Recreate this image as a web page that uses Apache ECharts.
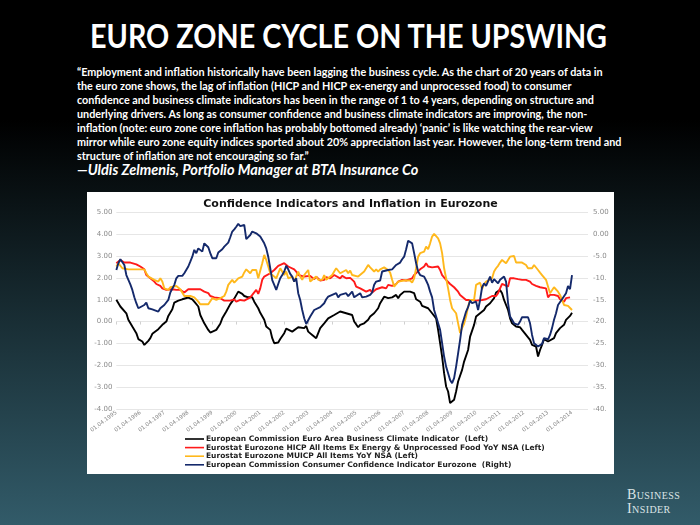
<!DOCTYPE html>
<html>
<head>
<meta charset="utf-8">
<script src="https://cdn.jsdelivr.net/npm/echarts@6/dist/echarts.min.js"></script>
<style>
  html, body { margin:0; padding:0; }
  body { width:700px; height:525px; overflow:hidden; position:relative;
         background: linear-gradient(to bottom, #000 0px, #000 120px, #16292f 300px, #325b69 525px); }
  #title { position:absolute; left:90px; top:15px; color:#fff; white-space:nowrap;
           font-family:Lato, sans-serif; font-size:33px; font-weight:700; transform-origin:0 0; }
  #quote { position:absolute; left:77px; top:65px; color:#fff; font-family:Lato, sans-serif;
           font-weight:700; font-size:10.8px; line-height:14px; white-space:nowrap; }
  #author { position:absolute; left:77px; top:161px; color:#fff; font-family:Lato, sans-serif;
           font-weight:700; font-style:italic; font-size:14.5px; white-space:nowrap; }
  #panel { position:absolute; left:87px; top:192px; width:527px; height:282px; background:#fff; }
  #chart { width:527px; height:282px; }
  #logo { position:absolute; left:627px; top:488px; color:#dde4e6; font-family:'Liberation Serif', serif;
          font-variant:small-caps; font-size:14px; line-height:14px; letter-spacing:0.4px; }
</style>
</head>
<body>
<div id="title">EURO ZONE CYCLE ON THE UPSWING</div>
<div id="quote">“Employment and inflation historically have been lagging the business cycle. As the chart of 20 years of data in<br>the euro zone shows, the lag of inflation (HICP and HICP ex-energy and unprocessed food) to consumer<br>confidence and business climate indicators has been in the range of 1 to 4 years, depending on structure and<br>underlying drivers. As long as consumer confidence and business climate indicators are improving, the non-<br>inflation (note: euro zone core inflation has probably bottomed already) ‘panic’ is like watching the rear-view<br>mirror while euro zone equity indices sported about 20% appreciation last year. However, the long-term trend and<br>structure of inflation are not encouraging so far.”</div>
<div id="author">—Uldis Zelmenis, Portfolio Manager at BTA Insurance Co</div>
<div id="panel"><div id="chart"></div></div>
<div id="logo">Business<br>Insider</div>
<script>
// fit the headline to the width it has in the reference
(function(){ const t = document.getElementById('title'); const w = t.getBoundingClientRect().width;
  t.style.transform = 'scaleX(' + (517 / w) + ')'; })();

// x values = months since 01.04.1995
const xTickLabels = ['01.04.1995','01.04.1996','01.04.1997','01.04.1998','01.04.1999','01.04.2000','01.04.2001',
  '01.04.2002','01.04.2003','01.04.2004','01.04.2005','01.04.2006','01.04.2007','01.04.2008','01.04.2009',
  '01.04.2010','01.04.2011','01.04.2012','01.04.2013','01.04.2014'];

const seriesNames = [
  'European Commission Euro Area Business Climate Indicator  (Left)',
  'Eurostat Eurozone HICP All Items Ex Energy & Unprocessed Food YoY NSA (Left)',
  'Eurostat Eurozone MUICP All Items YoY NSA (Left)',
  'European Commission Consumer Confidence Indicator Eurozone  (Right)'
];

const businessClimate = [[0,1.0],[1,1.0],[2,0.69],[3,0.65],[5,0.38],[6,0.08],[8,-0.23],[10,-0.53],[11,-0.8],[12,-0.87],[13,-0.91],[14,-1.07],[16,-0.88],[17,-0.76],[18,-0.56],[19,-0.53],[21,-0.35],[22,-0.38],[23,-0.15],[25,0.0],[26,0.26],[28,0.56],[29,0.87],[31,0.96],[33,1.02],[36,1.1],[38,1.02],[39,0.91],[41,0.69],[42,0.3],[44,-0.08],[46,-0.38],[47,-0.5],[48,-0.56],[50,-0.38],[52,-0.1],[53,0.15],[55,0.46],[57,0.8],[59,1.05],[60,0.96],[61,1.37],[63,1.27],[64,1.17],[66,1.11],[68,1.11],[69,0.91],[71,0.61],[72,0.4],[74,0.08],[75,-0.23],[77,-0.38],[78,-0.76],[79,-0.99],[80,-1.07],[81,-0.96],[82,-0.8],[84,-0.53],[85,-0.32],[86,-0.38],[88,-0.46],[89,-0.38],[91,-0.26],[92,-0.23],[94,-0.3],[95,-0.2],[96,-0.46],[98,-0.61],[100,-0.76],[101,-0.53],[102,-0.3],[104,-0.08],[106,0.15],[107,0.08],[109,0.3],[110,0.38],[112,0.46],[113,0.46],[115,0.38],[116,0.42],[118,0.3],[119,0.0],[121,-0.26],[122,-0.15],[124,-0.08],[126,0.08],[127,0.23],[129,0.38],[131,0.61],[132,0.84],[134,1.14],[135,1.07],[136,1.07],[138,1.11],[140,1.22],[141,1.07],[142,1.22],[144,1.37],[145,1.33],[147,1.37],[149,1.3],[150,1.02],[152,0.91],[153,0.72],[154,0.69],[156,0.61],[157,0.69],[158,0.38],[160,0.15],[161,-0.38],[162,-0.99],[163,-1.6],[164,-2.36],[165,-2.97],[166,-3.2],[167,-3.73],[169,-3.58],[170,-3.2],[171,-2.74],[173,-2.21],[174,-1.83],[176,-1.3],[177,-0.69],[179,-0.15],[180,0.23],[182,0.38],[184,0.53],[185,0.69],[187,0.84],[189,1.07],[190,1.33],[192,1.45],[193,1.3],[194,0.99],[196,0.53],[197,0.15],[198,-0.08],[200,-0.23],[202,-0.26],[203,-0.38],[205,-0.61],[207,-0.84],[208,-1.07],[210,-1.14],[211,-1.6],[212,-1.3],[213,-1.07],[214,-0.81],[216,-0.91],[217,-0.99],[219,-0.76],[220,-0.53],[222,-0.3],[224,-0.15],[225,0.08],[227,0.26],[228,0.4]];

const coreHicp = [[0,2.67],[2,2.82],[4,2.7],[5,2.79],[7,2.7],[10,2.62],[12,2.52],[14,2.39],[15,2.13],[17,1.98],[19,1.83],[20,1.72],[22,1.63],[23,1.52],[25,1.45],[28,1.48],[30,1.45],[32,1.45],[34,1.33],[36,1.48],[39,1.48],[42,1.48],[44,1.37],[46,1.3],[47,1.17],[49,1.11],[52,1.07],[54,0.96],[55,0.99],[57,0.96],[59,1.02],[60,0.91],[62,0.99],[64,0.96],[65,1.02],[67,1.11],[68,1.22],[70,1.45],[71,1.27],[72,1.52],[73,1.91],[74,2.06],[75,1.98],[77,2.21],[78,2.13],[79,2.36],[80,2.44],[81,2.55],[82,2.52],[84,2.67],[85,2.59],[86,2.52],[87,2.48],[89,2.39],[90,2.29],[91,2.13],[92,2.21],[94,2.06],[95,2.06],[97,2.09],[99,1.94],[100,2.06],[102,1.88],[104,1.91],[105,2.03],[107,1.98],[109,2.13],[110,2.06],[112,1.98],[113,2.09],[115,1.98],[117,2.0],[118,1.91],[119,1.83],[120,1.6],[122,1.52],[123,1.48],[125,1.37],[127,1.45],[128,1.33],[130,1.48],[131,1.45],[133,1.57],[135,1.52],[136,1.68],[138,1.63],[140,1.72],[141,1.83],[143,1.91],[145,1.88],[146,1.91],[148,1.98],[149,2.13],[150,2.21],[152,2.39],[153,2.44],[154,2.52],[155,2.67],[156,2.52],[158,2.48],[159,2.44],[161,2.52],[162,2.36],[163,2.13],[165,1.91],[167,1.72],[168,1.75],[169,1.57],[171,1.37],[172,1.22],[173,1.14],[175,0.99],[176,1.02],[178,0.99],[180,0.96],[181,0.96],[183,0.99],[185,1.02],[186,1.07],[188,1.17],[190,1.17],[191,1.3],[192,1.52],[193,1.72],[194,1.68],[196,1.6],[197,1.98],[199,1.98],[201,1.94],[203,1.91],[205,1.91],[207,1.83],[208,1.72],[210,1.63],[212,1.57],[213,1.48],[215,1.52],[216,1.11],[217,1.22],[219,1.22],[221,1.17],[222,1.02],[224,0.91],[225,1.07],[226,1.07],[227,1.11]];

const headlineHicp = [[0,2.52],[1,2.67],[3,2.44],[4,2.39],[6,2.39],[9,2.39],[11,2.39],[14,2.39],[15,2.21],[16,2.06],[17,1.98],[19,1.91],[21,1.83],[22,1.98],[23,1.83],[24,1.52],[26,1.45],[27,1.57],[28,1.52],[30,1.63],[32,1.48],[33,1.52],[34,1.17],[35,1.11],[37,1.17],[38,1.17],[39,1.11],[41,0.91],[42,0.79],[44,0.79],[46,0.79],[47,0.84],[48,1.07],[50,0.99],[51,0.91],[52,1.07],[54,1.17],[55,1.37],[56,1.68],[57,1.72],[58,1.91],[59,1.78],[61,1.98],[63,2.06],[64,2.25],[65,2.39],[66,2.44],[67,2.21],[68,2.36],[69,2.39],[70,2.36],[71,1.98],[72,1.91],[73,2.67],[74,3.05],[75,2.82],[76,2.52],[77,2.21],[78,2.13],[80,1.98],[81,2.21],[82,2.44],[83,2.36],[84,2.13],[85,2.29],[86,1.98],[88,2.06],[89,1.83],[91,2.29],[92,2.06],[93,1.91],[94,2.13],[95,2.21],[96,2.36],[97,1.83],[98,1.78],[100,2.06],[101,1.91],[102,1.98],[103,1.91],[104,2.13],[105,1.91],[106,1.98],[108,2.13],[109,2.29],[110,2.44],[111,2.36],[112,2.21],[113,2.29],[115,2.36],[116,2.21],[117,2.33],[118,2.13],[119,2.13],[121,2.06],[122,2.13],[124,2.29],[125,2.36],[126,2.59],[127,2.48],[129,2.29],[130,2.39],[131,2.29],[132,2.39],[134,2.48],[135,2.48],[136,2.36],[137,2.24],[138,1.91],[139,1.6],[140,1.63],[141,1.83],[142,1.88],[144,1.88],[145,1.88],[147,1.88],[148,1.78],[149,1.98],[150,2.44],[151,2.97],[152,3.13],[154,3.2],[155,3.43],[156,3.31],[157,3.58],[158,3.89],[159,4.01],[160,4.01],[161,3.81],[162,3.58],[163,3.13],[164,2.44],[165,1.98],[166,1.52],[167,0.99],[168,0.61],[170,0.38],[171,-0.08],[172,-0.53],[173,-0.3],[174,-0.1],[175,0.23],[176,0.69],[177,0.99],[179,0.99],[180,1.68],[181,1.6],[182,1.78],[183,1.48],[184,1.72],[185,1.83],[186,1.88],[188,1.98],[189,2.29],[190,2.44],[191,2.55],[192,2.7],[193,2.82],[194,2.79],[195,2.67],[196,2.67],[197,2.97],[199,3.0],[200,2.7],[201,2.7],[203,2.7],[204,2.64],[205,2.59],[206,2.44],[208,2.44],[209,2.59],[210,2.55],[211,2.36],[212,2.24],[213,2.13],[214,2.06],[215,1.91],[217,1.3],[218,1.37],[219,1.57],[220,1.57],[221,1.37],[222,1.22],[223,0.99],[224,0.76],[225,0.81],[226,0.72],[227,0.66],[228,0.53]];

const consumerConfidence = [[0,-8.2],[1,-6.65],[2,-5.75],[3,-5.9],[4,-7.05],[5,-9.35],[7,-11.5],[8,-12.75],[9,-14.45],[10,-15.8],[11,-16.95],[12,-17.35],[14,-16.2],[15,-15.65],[16,-16.95],[17,-16.55],[18,-17.2],[19,-17.35],[21,-17.7],[22,-16.95],[23,-16.55],[24,-16.2],[26,-15.05],[27,-13.35],[29,-11.6],[30,-10.1],[31,-9.55],[33,-9.55],[34,-8.95],[36,-7.4],[37,-6.3],[38,-5.15],[39,-3.6],[40,-4.35],[41,-3.25],[43,-4.0],[44,-2.1],[45,-2.25],[46,-3.0],[47,-4.35],[48,-5.5],[50,-5.5],[51,-4.2],[52,-4.2],[53,-3.45],[54,-2.85],[56,-1.95],[57,-0.7],[58,0.6],[59,1.1],[60,1.7],[61,2.35],[62,1.85],[63,2.1],[64,2.1],[65,-1.15],[67,-0.2],[68,0.6],[69,0.8],[70,0.2],[71,-0.2],[72,-0.55],[74,-2.1],[75,-3.25],[76,-5.15],[77,-7.8],[78,-10.5],[79,-11.6],[80,-12.75],[81,-11.4],[82,-10.1],[83,-9.35],[84,-8.55],[85,-7.25],[86,-8.05],[87,-9.1],[88,-9.7],[89,-10.85],[90,-10.1],[91,-13.5],[92,-15.05],[93,-17.35],[94,-19.25],[95,-20.55],[97,-18.85],[98,-18.1],[99,-17.35],[100,-16.95],[102,-16.7],[103,-16.55],[104,-15.8],[105,-14.9],[106,-14.3],[108,-13.9],[109,-14.15],[110,-13.5],[111,-14.45],[112,-13.9],[113,-14.15],[115,-13.5],[116,-14.2],[117,-13.9],[118,-13.15],[119,-14.45],[120,-14.15],[122,-13.5],[123,-14.45],[124,-14.65],[125,-14.3],[127,-13.9],[128,-13.35],[129,-11.6],[130,-10.85],[131,-11.1],[132,-10.6],[133,-8.55],[134,-8.55],[136,-8.2],[137,-8.35],[138,-8.05],[139,-7.6],[140,-7.05],[142,-6.5],[143,-5.75],[144,-5.15],[145,-3.45],[146,-1.5],[147,-1.7],[148,-2.1],[149,-4.35],[150,-6.65],[151,-8.55],[152,-9.35],[154,-9.7],[155,-10.6],[156,-11.6],[157,-13.15],[158,-14.45],[159,-17.35],[160,-18.85],[161,-19.25],[162,-21.9],[163,-24.95],[164,-28],[165,-30.3],[166,-31.8],[167,-33.35],[168,-34.1],[169,-32.95],[170,-30.3],[171,-27.25],[172,-24.2],[173,-20.75],[174,-19.25],[175,-17.7],[176,-16.7],[177,-15.2],[178,-15.8],[179,-16.2],[180,-15.45],[181,-17.35],[182,-15.05],[183,-12.15],[184,-11.25],[185,-11.85],[187,-9.7],[188,-11.1],[189,-10.3],[190,-10.45],[191,-11.25],[192,-10.45],[194,-9.7],[195,-10.85],[196,-15.8],[197,-18.85],[198,-19.6],[199,-20.4],[201,-20.75],[202,-20],[203,-19],[204,-18.7],[206,-19],[207,-20.4],[208,-23.05],[209,-24.95],[210,-25.35],[211,-25.7],[212,-25.35],[213,-25.1],[214,-23.8],[215,-23.45],[216,-24.05],[217,-23.05],[218,-21.5],[219,-19.6],[220,-18.1],[221,-16.2],[223,-14.9],[224,-14.65],[225,-13.5],[226,-11.85],[227,-12.6],[228,-9.35]];

const leftAxis = { min:-4, max:5, interval:1 };
const rightAxis = { min:-40, max:5, interval:5 };
const xRange = { min:0, max:236, interval:12 };

const colors = ['#000000', '#ff1a1a', '#ffb81c', '#14296b'];
const datasets = [businessClimate, coreHicp, headlineHicp, consumerConfidence];
const axisIndex = [0, 0, 0, 1];

const chart = echarts.init(document.getElementById('chart'), null, { renderer:'canvas' });
const FONT = 'DejaVu Sans';

chart.setOption({
  animation:false,
  backgroundColor:'#ffffff',
  title:{ text:'Confidence Indicators and Inflation in Eurozone', left:'center', top:2,
          textStyle:{ fontSize:11, fontWeight:'bold', color:'#111', fontFamily:FONT } },
  grid:{ left:20.3, top:20.3, width:480.7, height:196.7, containLabel:false },
  legend:{ orient:'vertical', left:98, top:243, itemGap:0.6, itemWidth:19, itemHeight:1.6,
           icon:'rect', padding:0,
           textStyle:{ fontSize:7.5, fontWeight:'bold', color:'#222', fontFamily:FONT, padding:[0,0,0,-3] },
           data: seriesNames },
  xAxis:{ type:'value', min:xRange.min, max:xRange.max, interval:xRange.interval,
          axisLine:{ show:false }, splitLine:{ show:false },
          axisTick:{ show:true, length:3, lineStyle:{ color:'#d0d0d0' } },
          axisLabel:{ fontSize:5.5, color:'#8a8a8a', fontFamily:FONT, rotate:37, margin:3, showMaxLabel:false,
                      formatter: v => (v % 12 === 0 && xTickLabels[v/12]) ? xTickLabels[v/12] : '' } },
  yAxis:[
    { type:'value', min:leftAxis.min, max:leftAxis.max, interval:leftAxis.interval, position:'left',
      axisLine:{ show:false }, axisTick:{ show:false },
      splitLine:{ show:true, lineStyle:{ color:'#e6e6e6', width:1 } },
      axisLabel:{ fontSize:7, color:'#8a8a8a', fontFamily:FONT, margin:4, formatter: v => v.toFixed(2) } },
    { type:'value', min:rightAxis.min, max:rightAxis.max, interval:rightAxis.interval, position:'right',
      axisLine:{ show:false }, axisTick:{ show:false }, splitLine:{ show:false },
      axisLabel:{ fontSize:7, color:'#8a8a8a', fontFamily:FONT, margin:5, width:17, overflow:'truncate', ellipsis:'',
                  formatter: v => v.toFixed(2) } }
  ],
  series: datasets.map((d, i) => ({
    name: seriesNames[i], type:'line', yAxisIndex: axisIndex[i], data: d,
    showSymbol:false, symbol:'none', smooth:false,
    lineStyle:{ color:colors[i], width:1.9 }, itemStyle:{ color:colors[i] },
    emphasis:{ disabled:true }
  }))
});
</script>
</body>
</html>
